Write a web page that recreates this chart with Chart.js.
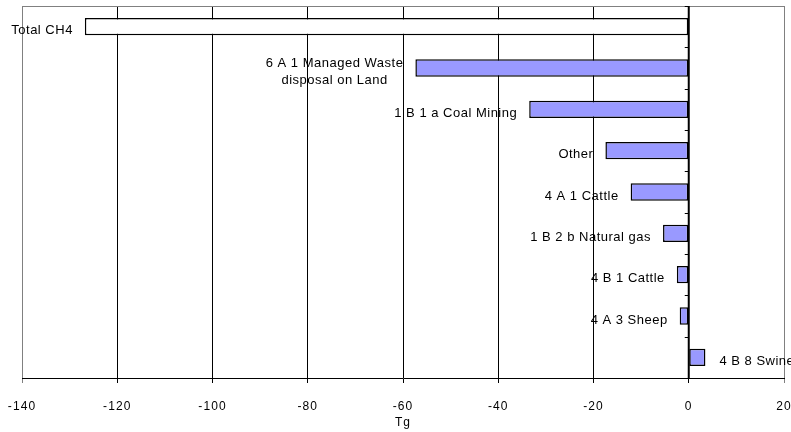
<!DOCTYPE html>
<html><head><meta charset="utf-8">
<script src="https://cdn.jsdelivr.net/npm/chart.js@4.4.1/dist/chart.umd.min.js"></script>
<style>html,body{margin:0;padding:0;background:#fff}canvas{display:block}</style>
</head><body>
<canvas id="c" width="791" height="432"></canvas>
<script>
const categories = [
  'Total CH4',
  '6 A 1 Managed Waste\ndisposal on Land',
  '1 B 1 a Coal Mining',
  'Other',
  '4 A 1 Cattle',
  '1 B 2 b Natural gas',
  '4 B 1 Cattle',
  '4 A 3 Sheep',
  '4 B 8 Swine'
];
const values = [-126.8, -57.4, -33.5, -17.5, -12.2, -5.4, -2.5, -1.9, 3.5];
const barColors = ['#FFFFFF', '#9999FF', '#9999FF', '#9999FF', '#9999FF', '#9999FF', '#9999FF', '#9999FF', '#9999FF'];
const xTickValues = [-140, -120, -100, -80, -60, -40, -20, 0, 20];
const axisTitle = 'Tg';

const FONT = "'Liberation Sans', Arial, sans-serif";
const FSIZE = 12;
const LS = '1.1px';
const LABEL_SIZE = 13;
const LABEL_LS = '0.5px';

const spacingPlugin = {
  id: 'spacing',
  beforeUpdate(c) { c.ctx.letterSpacing = LS; },
  beforeLayout(c) { c.ctx.letterSpacing = LS; },
  beforeDraw(c) { c.ctx.letterSpacing = LS; }
};

const overlayPlugin = {
  id: 'overlay',
  afterDatasetsDraw(chart) {
    const ctx = chart.ctx, a = chart.chartArea;
    const xs = chart.scales.x, ys = chart.scales.y;
    ctx.save();
    // top border
    ctx.strokeStyle = '#808080'; ctx.lineWidth = 1;
    ctx.beginPath(); ctx.moveTo(a.left, a.top + 0.5); ctx.lineTo(a.right, a.top + 0.5); ctx.stroke();
    // zero line
    const x0 = xs.getPixelForValue(0);
    ctx.strokeStyle = '#000'; ctx.lineWidth = 2;
    ctx.beginPath(); ctx.moveTo(x0, a.top); ctx.lineTo(x0, a.bottom); ctx.stroke();
    // category tick marks
    ctx.lineWidth = 1;
    for (let i = 0; i <= categories.length; i++) {
      const y = Math.round(ys.getPixelForValue(i - 0.5)) + 0.5;
      ctx.beginPath(); ctx.moveTo(x0 - 4, y); ctx.lineTo(x0, y); ctx.stroke();
    }
    // labels
    ctx.letterSpacing = LABEL_LS;
    ctx.font = LABEL_SIZE + 'px ' + FONT;
    ctx.fillStyle = '#000';
    ctx.textBaseline = 'middle';
    ctx.textAlign = 'center';
    const meta = chart.getDatasetMeta(0);
    const lh = 16.5;
    meta.data.forEach((el, i) => {
      const lines = chart.data.labels[i].split('\n');
      const w = Math.max(...lines.map(l => ctx.measureText(l).width));
      const v = chart.data.datasets[0].data[i];
      const cx = v < 0 ? (el.x - 12 - w / 2) : (el.x + 14 + w / 2);
      const cy = el.y + 4 - (lines.length - 1) * lh / 2;
      lines.forEach((l, k) => ctx.fillText(l, cx, cy + k * lh));
    });
    ctx.restore();
  }
};

new Chart(document.getElementById('c'), {
  type: 'bar',
  data: {
    labels: categories,
    datasets: [{
      data: values,
      backgroundColor: barColors,
      borderColor: '#000',
      borderWidth: 1.5,
      borderSkipped: false,
      categoryPercentage: 1,
      barPercentage: 0.42
    }]
  },
  options: {
    indexAxis: 'y',
    responsive: false,
    animation: false,
    events: [],
    layout: { padding: { left: 22, right: 7, top: 6, bottom: 0 } },
    plugins: { legend: { display: false }, tooltip: { enabled: false } },
    scales: {
      x: {
        type: 'linear',
        min: -140, max: 20,
        afterBuildTicks(s) { s.ticks = xTickValues.map(v => ({ value: v })); },
        afterFit(s) { s.paddingLeft = 0; s.paddingRight = 0; s.height = 54; },
        ticks: { color: '#000', font: { family: FONT, size: FSIZE }, padding: 16, maxRotation: 0 },
        grid: {
          color: c => (c.tick && (c.tick.value === -140 || c.tick.value === 20)) ? '#808080' : '#000',
          lineWidth: 1,
          tickLength: 5,
          drawTicks: true
        },
        border: { display: true, color: '#000', width: 1 },
        title: { display: true, text: axisTitle, color: '#000', font: { family: FONT, size: FSIZE }, padding: { top: 2, bottom: 2 } }
      },
      y: { display: false }
    }
  },
  plugins: [spacingPlugin, overlayPlugin]
});
</script>
</body></html>
